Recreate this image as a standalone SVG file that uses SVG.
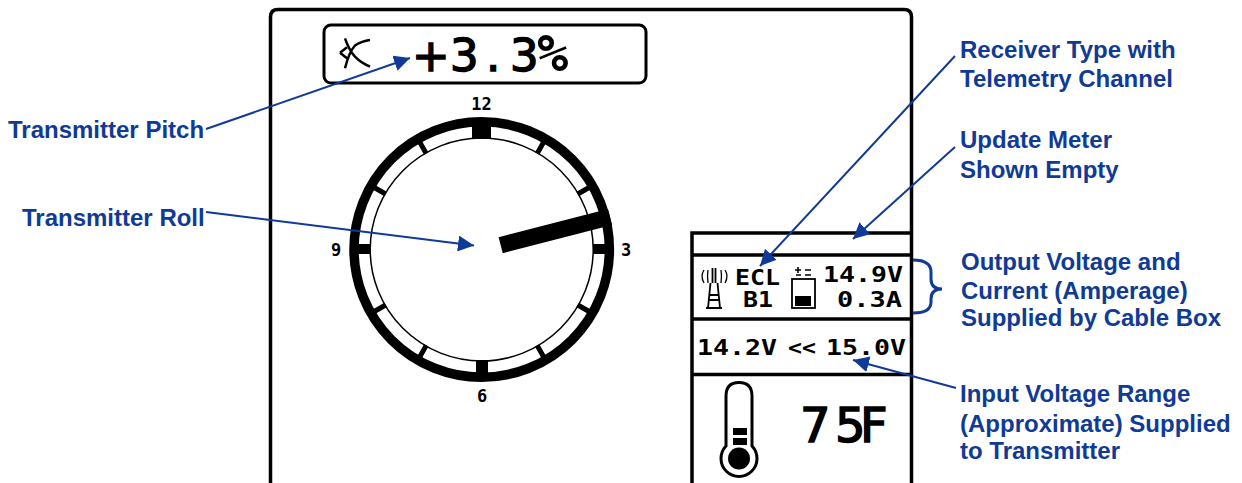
<svg xmlns="http://www.w3.org/2000/svg" width="1242" height="483" viewBox="0 0 1242 483">
<style>
.lbl{font-family:"Liberation Sans",Arial,sans-serif;font-weight:700;font-size:24px;fill:#0f3a96}
.mono{font-family:"DejaVu Sans Mono",monospace;font-weight:700;fill:#000}
.big{font-family:"DejaVu Sans",sans-serif;font-weight:400;fill:#000;stroke:#000;stroke-width:1.500}
.k{fill:none;stroke:#000}
.c{fill:none;stroke:#0f3a96;stroke-width:2}
</style>
<defs><marker id="a" markerUnits="userSpaceOnUse" markerWidth="17" markerHeight="16" refX="16" refY="8" orient="auto"><path d="M0 0L16 8L0 16Z" fill="#0f3a96"/></marker></defs>
<rect width="1242" height="483" fill="#fff"/>
<g id="frame"><path class="k" stroke-width="3.500" d="M270.500 490V17Q270.500 9.500 278 9.500H904Q911.500 9.500 911.500 17V490"/></g>
<g id="pitch-display">
<rect class="k" stroke-width="3" x="324" y="25" width="322" height="58" rx="7"/>
<path class="k" stroke-width="2.500" d="M345 38.300Q349 50 355 56.700Q361 63 370 66.700M370 40Q362 41 355 45.500Q349 52 345 68.300M340 52.700L347 47.300M340 52.700L347 58.300"/>
<text class="big" x="412 450 486 510" y="71" font-size="45">+3.3<tspan x="537" class="mono" font-size="52" stroke="none" style="stroke:none">%</tspan></text>
</g>
<g id="dial">
<circle class="k" cx="481.700" cy="249.500" r="127.700" stroke-width="9.500"/>
<circle class="k" cx="481.700" cy="249.500" r="111.500" stroke-width="1.500"/>
<g fill="#000">
<rect x="472" y="118" width="19" height="21"/>
<rect x="476" y="360" width="12" height="20"/>
<rect x="350" y="244" width="21" height="10"/>
<rect x="593" y="244" width="20" height="10"/>
</g>
<path id="ticks" stroke="#000" stroke-width="5" fill="none" d="M537.200 153.400L543.700 142.100M577.800 194L589.100 187.500M577.800 305L589.100 311.500M537.200 345.600L543.700 356.900M426.200 345.600L419.700 356.900M385.600 305L374.300 311.500M385.600 194L374.300 187.500M426.200 153.400L419.700 142.100"/>
<path class="k" stroke-width="16.500" d="M500.700 245.200L610 217"/>
<text class="mono" x="481.500" y="110" font-size="17" text-anchor="middle">12</text>
<text class="mono" x="336" y="256" font-size="17" text-anchor="middle">9</text>
<text class="mono" x="626" y="256" font-size="17" text-anchor="middle">3</text>
<text class="mono" x="482" y="402" font-size="17" text-anchor="middle">6</text>
</g>
<g id="status-panel">
<path class="k" stroke-width="3.500" d="M692 490V233H911M692 255H911M692 319H911M692 374.500H911"/>
<g class="k" stroke-width="1.800">
<path d="M712.500 268V283M715.500 268V283M710.500 283L708 308M717.500 283L720 308M709 295H719M706 308H722M708 300H720"/>
<path d="M704 270Q700 276 704 283M725 270Q729 276 725 283M708 270Q707 276 708 283M721 270Q722 276 721 283" stroke-width="1.300"/>
</g>
<text class="mono" x="735" y="285" font-size="21" textLength="45" lengthAdjust="spacingAndGlyphs">ECL</text>
<text class="mono" x="743" y="307" font-size="21" textLength="30" lengthAdjust="spacingAndGlyphs">B1</text>
<g id="battery">
<rect class="k" stroke-width="1.800" x="792" y="279" width="23" height="29"/>
<rect x="795" y="296" width="16" height="10"/>
<path class="k" stroke-width="1.600" d="M795 270H801M798 267V273M805 270H811M796 275H801M805 275H811"/>
</g>
<text class="mono" x="823" y="282" font-size="21" textLength="80" lengthAdjust="spacingAndGlyphs">14.9V</text>
<text class="mono" x="837" y="307" font-size="21" textLength="65" lengthAdjust="spacingAndGlyphs">0.3A</text>
<text class="mono" x="697" y="355" font-size="21" textLength="80" lengthAdjust="spacingAndGlyphs">14.2V</text>
<text class="mono" x="788" y="355" font-size="21" textLength="28" lengthAdjust="spacingAndGlyphs">&lt;&lt;</text>
<text class="mono" x="826" y="355" font-size="21" textLength="80" lengthAdjust="spacingAndGlyphs">15.0V</text>
<g id="thermometer">
<path class="k" stroke-width="3" d="M726 446V396Q726 382.500 739 382.500Q752 382.500 752 396V446A18 18 0 1 1 726 446Z"/>
<circle cx="739" cy="458.500" r="11" fill="#000"/>
<rect x="733" y="428" width="14" height="7"/><rect x="733" y="438" width="14" height="7"/>
</g>
<text class="big" x="800 835 860" y="442" font-size="48">75F</text>
</g>
<g id="connectors">
<path class="c" marker-end="url(#a)" d="M206 129L410 58"/>
<path class="c" marker-end="url(#a)" d="M206 212L474 245.500"/>
<path class="c" marker-end="url(#a)" d="M955 56L760 266"/>
<path class="c" marker-end="url(#a)" d="M955 147L853 239"/>
<path class="c" marker-end="url(#a)" d="M956 388L853 360"/>
<path fill="none" stroke="#0f3a96" stroke-width="3" d="M913 260Q931 260 931 272V279Q931 289 942 289Q931 289 931 299V302Q931 313 913 313"/>
</g>
<g id="labels">
<text class="lbl" x="8" y="138">Transmitter Pitch</text>
<text class="lbl" x="22" y="226">Transmitter Roll</text>
<text class="lbl" x="960" y="58">Receiver Type with</text>
<text class="lbl" x="960" y="87">Telemetry Channel</text>
<text class="lbl" x="960" y="148">Update Meter</text>
<text class="lbl" x="960" y="178">Shown Empty</text>
<text class="lbl" x="961" y="270">Output Voltage and</text>
<text class="lbl" x="961" y="299">Current (Amperage)</text>
<text class="lbl" x="961" y="326">Supplied by Cable Box</text>
<text class="lbl" x="960" y="402">Input Voltage Range</text>
<text class="lbl" x="960" y="432">(Approximate) Supplied</text>
<text class="lbl" x="960" y="459">to Transmitter</text>
</g>
</svg>
